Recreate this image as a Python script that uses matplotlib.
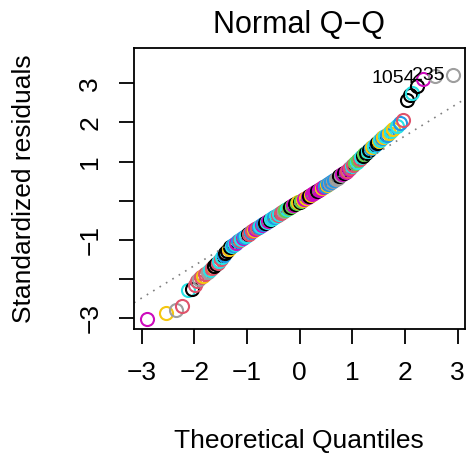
"""Normal Q-Q plot of standardized residuals (R plot.lm style)"""

import matplotlib
matplotlib.use("Agg")
import matplotlib.pyplot as plt

plt.rcParams['font.family'] = ['Liberation Sans', 'DejaVu Sans']

# R 4.x default palette
palette = ["#000000", "#DF536B", "#61D04F", "#2297E6",
           "#28E2E5", "#CD0BBC", "#F5C710", "#9E9E9E"]

# theoretical quantiles
theo_q = [-2.90, -2.54, -2.35, -2.23, -2.13, -2.05, -1.99, -1.95, -1.91, -1.87,
          -1.83, -1.79, -1.75, -1.71, -1.67, -1.63, -1.59, -1.56, -1.53, -1.50,
          -1.47, -1.44, -1.41, -1.38, -1.35, -1.32, -1.29, -1.26, -1.23, -1.20,
          -1.17, -1.14, -1.11, -1.08, -1.05, -1.02, -0.99, -0.96, -0.93, -0.90,
          -0.87, -0.84, -0.81, -0.78, -0.75, -0.72, -0.69, -0.66, -0.63, -0.60,
          -0.57, -0.54, -0.51, -0.48, -0.45, -0.42, -0.39, -0.36, -0.33, -0.30,
          -0.27, -0.24, -0.21, -0.18, -0.15, -0.12, -0.09, -0.06, -0.03, 0.00,
          0.03, 0.06, 0.09, 0.12, 0.15, 0.18, 0.21, 0.24, 0.27, 0.30,
          0.33, 0.36, 0.39, 0.42, 0.45, 0.48, 0.51, 0.54, 0.57, 0.60,
          0.63, 0.66, 0.69, 0.72, 0.75, 0.78, 0.81, 0.84, 0.87, 0.90,
          0.93, 0.96, 0.99, 1.02, 1.05, 1.08, 1.11, 1.14, 1.17, 1.20,
          1.23, 1.26, 1.29, 1.32, 1.35, 1.38, 1.41, 1.44, 1.47, 1.50,
          1.53, 1.56, 1.59, 1.62, 1.65, 1.69, 1.73, 1.78, 1.84, 1.90,
          1.97, 2.03, 2.10, 2.13, 2.22, 2.35, 2.57, 2.905]

# standardized residuals, sorted
std_resid = [-3.01, -2.87, -2.80, -2.69, -2.28, -2.26, -2.15, -2.06, -2.00, -1.96,
             -1.91, -1.86, -1.81, -1.76, -1.71, -1.66, -1.61, -1.58, -1.54, -1.49,
             -1.44, -1.39, -1.34, -1.29, -1.24, -1.19, -1.16, -1.13, -1.10, -1.07,
             -1.04, -1.01, -0.98, -0.95, -0.92, -0.89, -0.86, -0.84, -0.81, -0.78,
             -0.75, -0.72, -0.69, -0.67, -0.64, -0.62, -0.59, -0.56, -0.54, -0.51,
             -0.49, -0.46, -0.44, -0.41, -0.39, -0.36, -0.34, -0.32, -0.29, -0.27,
             -0.24, -0.22, -0.19, -0.17, -0.14, -0.12, -0.09, -0.07, -0.04, -0.02,
             0.00, 0.03, 0.05, 0.08, 0.10, 0.13, 0.15, 0.18, 0.20, 0.23,
             0.25, 0.28, 0.30, 0.33, 0.35, 0.38, 0.40, 0.43, 0.45, 0.48,
             0.51, 0.53, 0.56, 0.59, 0.62, 0.65, 0.68, 0.70, 0.73, 0.76,
             0.80, 0.84, 0.88, 0.92, 0.96, 1.00, 1.04, 1.07, 1.11, 1.15,
             1.19, 1.22, 1.26, 1.30, 1.34, 1.37, 1.41, 1.45, 1.48, 1.52,
             1.56, 1.59, 1.62, 1.66, 1.69, 1.74, 1.78, 1.84, 1.91, 1.98,
             2.06, 2.57, 2.70, 2.74, 2.93, 3.12, 3.19, 3.21]

# colour index (1-based, R palette) of each point
col_idx = [6, 7, 8, 2, 5, 1, 2, 2, 8, 2,
           7, 2, 8, 5, 2, 1, 1, 2, 5, 2,
           5, 4, 1, 1, 7, 1, 5, 4, 5, 6,
           4, 2, 5, 6, 4, 5, 1, 2, 4, 2,
           7, 6, 2, 4, 5, 6, 4, 1, 5, 6,
           1, 5, 5, 4, 5, 2, 5, 2, 2, 8,
           3, 5, 3, 1, 3, 6, 1, 3, 7, 1,
           3, 7, 6, 7, 6, 1, 7, 6, 6, 6,
           1, 6, 6, 7, 6, 4, 7, 4, 8, 4,
           8, 4, 8, 8, 1, 8, 6, 1, 6, 2,
           6, 2, 5, 2, 3, 5, 3, 2, 5, 1,
           3, 1, 5, 1, 4, 7, 5, 4, 1, 7,
           5, 4, 7, 5, 4, 7, 5, 7, 5, 4,
           2, 1, 1, 5, 1, 6, 8, 8]

# labelled observations (index into the lists above, label)
id_points = [(135, "1054"), (137, "235")]

# qqline
line_intercept = 0.0
line_slope = 0.828

xticks = [-3, -2, -1, 0, 1, 2, 3]
yticks = [-3, -2, -1, 0, 1, 2, 3]
ytick_labels = ["\u22123", "", "\u22121", "", "1", "2", "3"]
xtick_labels = ["\u22123", "\u22122", "\u22121", "0", "1", "2", "3"]

fig = plt.figure(figsize=(4.69, 4.59), dpi=100)
ax = fig.add_axes([134 / 469, 1 - 329 / 459, 330.5 / 469, 281 / 459])

for x, y, c in zip(theo_q, std_resid, col_idx):
    ax.plot(x, y, marker="o", markersize=9.4, markerfacecolor="none",
            markeredgecolor=palette[c - 1], markeredgewidth=1.5, linestyle="none")

ax.axline((0, line_intercept), slope=line_slope, color="#7F7F7F",
          linestyle=(0, (1, 3.5)), linewidth=1.2)

for i, lab in id_points:
    ax.annotate(lab, (theo_q[i], std_resid[i]), xytext=(-6, 0),
                textcoords="offset points", ha="right", va="center",
                fontsize=14, annotation_clip=False)

ax.set_xlim(-3.146, 3.129)
ax.set_ylim(-3.275, 3.90)

for s in ax.spines.values():
    s.set_linewidth(1.3)

ax.set_xticks(xticks)
ax.set_xticklabels(xtick_labels)
ax.set_yticks(yticks)
ax.set_yticklabels(ytick_labels, rotation=90, va="center")
ax.tick_params(direction="out", length=10.8, width=1.3, labelsize=19, pad=12)

fig.text(299 / 469, 1 - 25 / 459, "Normal Q\u2212Q", ha="center", va="center", fontsize=22)
fig.text(299 / 469, 1 - 441 / 459, "Theoretical Quantiles", ha="center", va="center", fontsize=19)
fig.text(24 / 469, 1 - 189 / 459, "Standardized residuals", ha="center", va="center",
         rotation=90, fontsize=19)

fig.savefig("out.png", dpi=100)
